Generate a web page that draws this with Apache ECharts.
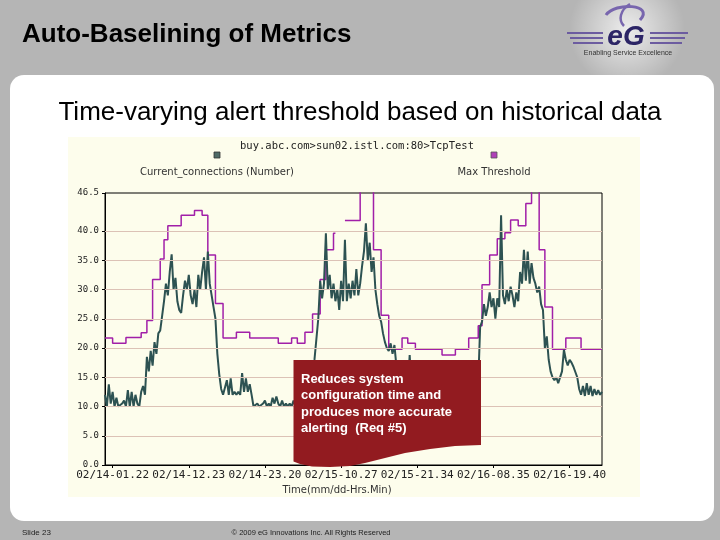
<!DOCTYPE html>
<html>
<head>
<meta charset="utf-8">
<script src="https://cdn.jsdelivr.net/npm/echarts@6/dist/echarts.min.js"></script>
<style>html,body{margin:0;padding:0;background:#b5b5b5}#c{width:720px;height:540px}</style>
</head>
<body>
<div id="c"></div>
<script>
// ---- data ----
const tickLabels = ['02/14-01.22','02/14-12.23','02/14-23.20','02/15-10.27','02/15-21.34','02/16-08.35','02/16-19.40'];
const firstTick = 4, tickStep = 40;
const yTickValues = [0,5,10,15,20,25,30,35,40,46.5];
const yTickLabels = ['0.0','5.0','10.0','15.0','20.0','25.0','30.0','35.0','40.0','46.5'];
const gridValues = [5,10,15,20,25,30,35,40];
const current = [
12,10,13.8,10.5,12.5,10,11.5,10,10,10.5,
11,10,12.8,10,12.5,10,12,10.5,10,12.5,
13.5,12,18.5,16,19.5,17,21,19,22.5,23,
25.5,28,31,29,33,36,30,32,28,26.5,
26,29,31.5,30,32.5,29,27.5,30,27,32.5,
30,33,35.5,30,36.5,31,29,27,25,19,
15.5,13,12,12,14.5,12,14.8,12,12.5,12,
12.5,12,15.7,12.5,14.8,12.5,13.8,12,10,10,
10.5,10,10,10.5,11,10,10.5,10,11.5,10.5,
11.7,10.5,10,11,10,10.5,10,10.5,10,11,
10,10.5,10,11,10,10.5,11,12,14,16,
18,21.5,25,31.5,28.5,31,39.6,30,32.5,28.5,
31,28,30,26.5,31.5,28,38.5,28,31,28.5,
31.5,29,33.5,29,31,34,36.5,41.3,35,38,
33,35.5,30,27.5,25.5,24.5,22.5,21,20,19.5,
20.8,19,20.5,17,15,13,12.5,14,12,13,
18.8,13,12,11,10.5,10,10.5,10,11,10,
10,10.5,10,11,10,10.5,10,10,11,10.5,
10,10,10.5,11,10,10,10.5,10,11,10,
10.5,11,12,13,14,14,14,23.6,24.5,27.5,
25.5,27,29.5,27,28.5,25,28.5,27,42.7,29,
27.5,30,28,30.5,29,27,29.5,28,33,31,
36.8,31.5,36.5,31,34.5,32,31,29.5,30.5,27.5,
26.5,20,22,18,16,15,14.5,15,14,14,
16,19.7,18,17,18,17.5,16.8,17,15,13,
12,13.5,11.8,14,12,13.5,11.8,13,12,12.8,
12,12.5
];
// threshold: change points (sample index) and values (step function)
const thrIdx = [0,4,11,19,22,25,29,31,33,40,47,51,54,58,62,69,76,91,98,101,105,109,113,116,120,121,126,134,141,145,149,156,159,163,177,184,191,196,198,202,206,210,213,217,221,224,228,231,235,242,250,261];
const thrVal = [21.7,20.8,21.8,22.6,24.7,31.7,35.2,38.5,40.9,42.7,43.5,42.7,35.9,27.6,21.7,22.7,21.7,20.8,21.7,20.8,22.7,25.8,31.7,36.8,39.6,null,41.8,48,36.8,25.6,19.8,21.7,20.8,19.8,18.8,19.8,21.7,23.8,30.8,35.9,38.7,39.7,41.9,40.9,44.7,48,36.8,27.0,19.8,21.7,19.8,19.8];

const cats = current.map((_, i) => i);
const thrData = thrIdx.map((x, k) => [x, thrVal[k]]);
const isTick = (i) => i >= firstTick && (i - firstTick) % tickStep === 0;

const chart = echarts.init(document.getElementById('c'));
const mono = '"DejaVu Sans Mono", monospace';
const purple = '#6c5ca0';
chart.setOption({
  backgroundColor: '#b5b5b5',
  animation: false,
  grid: { left: 105, right: 118, top: 193, bottom: 75, show: true, borderColor: '#000', borderWidth: 1, backgroundColor: 'transparent', z: 1 },
  xAxis: {
    type: 'category', data: cats, boundaryGap: false,
    axisLine: { lineStyle: { color: '#000', width: 1 } },
    axisTick: { interval: (i) => isTick(i), length: 3, lineStyle: { color: '#000' } },
    axisLabel: { interval: (i) => isTick(i), formatter: (v, i) => tickLabels[(i - firstTick) / tickStep] || '', color: '#222', fontFamily: mono, fontSize: 11, margin: 5 },
    splitLine: { show: false }
  },
  yAxis: {
    type: 'value', min: 0, max: 46.5, interval: 5,
    axisLine: { show: true, lineStyle: { color: '#000' } },
    axisTick: { show: true, length: 3, customValues: yTickValues, lineStyle: { color: '#000' } },
    axisLabel: { customValues: yTickValues, formatter: (v) => { const k = yTickValues.indexOf(v); return k >= 0 ? yTickLabels[k] : ''; }, color: '#222', fontFamily: mono, fontSize: 9, margin: 6 },
    splitLine: { show: false }
  },
  series: [
    { type: 'line', data: [], silent: true, z: 1,
      markLine: { silent: true, symbol: 'none', label: { show: false }, animation: false,
        lineStyle: { color: '#dcc2b6', type: 'solid', width: 1 },
        data: gridValues.map(v => ({ yAxis: v })) } },
    { name: 'Max Threshold', type: 'line', step: 'end', data: thrData, showSymbol: false, connectNulls: false,
      lineStyle: { color: '#a11fa8', width: 1.5 }, itemStyle: { color: '#a11fa8' }, z: 3 },
    { name: 'Current_connections (Number)', type: 'line', data: current, showSymbol: false,
      lineStyle: { color: '#2d5252', width: 2 }, itemStyle: { color: '#2d5252' }, z: 4 }
  ],
  graphic: [
    { type: 'rect', z: -20, shape: { x: 10, y: 75, width: 704, height: 446, r: 14 }, style: { fill: '#ffffff' } },
    { type: 'rect', z: -19, shape: { x: 0, y: 521, width: 720, height: 19 }, style: { fill: '#b5b5b5' } },
    { type: 'rect', z: -18, shape: { x: 68, y: 137, width: 572, height: 360 }, style: { fill: '#fdfdec' } },
    { type: 'circle', z: -19, shape: { cx: 627, cy: 30, r: 58 }, style: { fill: { type: 'radial', x: 0.5, y: 0.5, r: 0.5, colorStops: [{ offset: 0, color: 'rgba(255,255,255,0.75)' }, { offset: 1, color: 'rgba(255,255,255,0)' }] } } },
    { type: 'text', z: 10, style: { text: 'Auto-Baselining of Metrics', x: 22, y: 35, textVerticalAlign: 'middle', fill: '#000', font: 'bold 26px "Liberation Sans", Arial, sans-serif' } },
    { type: 'text', z: 10, style: { text: 'Time-varying alert threshold based on historical data', x: 360, y: 113, textAlign: 'center', textVerticalAlign: 'middle', fill: '#000', font: '26px "Liberation Sans", Arial, sans-serif' } },
    { type: 'text', z: 10, style: { text: 'buy.abc.com>sun02.istl.com:80>TcpTest', x: 357, y: 146, textAlign: 'center', textVerticalAlign: 'middle', fill: '#222', font: '10.5px ' + mono } },
    { type: 'rect', z: 10, shape: { x: 214, y: 152, width: 6, height: 6 }, style: { fill: '#4f6a66', stroke: '#333', lineWidth: 0.8 } },
    { type: 'rect', z: 10, shape: { x: 491, y: 152, width: 6, height: 6 }, style: { fill: '#b040b8', stroke: '#555', lineWidth: 0.8 } },
    { type: 'text', z: 10, style: { text: 'Current_connections (Number)', x: 217, y: 172, textAlign: 'center', textVerticalAlign: 'middle', fill: '#333', font: '10px "DejaVu Sans", sans-serif' } },
    { type: 'text', z: 10, style: { text: 'Max Threshold', x: 494, y: 172, textAlign: 'center', textVerticalAlign: 'middle', fill: '#333', font: '10px "DejaVu Sans", sans-serif' } },
    { type: 'text', z: 10, style: { text: 'Time(mm/dd-Hrs.Min)', x: 337, y: 490, textAlign: 'center', textVerticalAlign: 'middle', fill: '#333', font: '10px "DejaVu Sans", sans-serif' } },
    { type: 'polygon', z: 100, shape: { points: [[293.5,360],[481,360],[481,445],[455,446],[430,449],[405,453],[385,458],[365,463],[350,466],[330,467],[312,466.5],[300,464],[293.5,461.5]] }, style: { fill: '#921b20' } },
    { type: 'text', z: 101, style: { text: 'Reduces system\nconfiguration time and\nproduces more accurate\nalerting  (Req #5)', x: 301, y: 371, textVerticalAlign: 'top', fill: '#ffffff', font: 'bold 13px "Liberation Sans", Arial, sans-serif', lineHeight: 16.5 } },
    { type: 'text', z: 10, style: { text: 'Slide 23', x: 22, y: 533, textVerticalAlign: 'middle', fill: '#222', font: '8px "Liberation Sans", Arial, sans-serif' } },
    { type: 'text', z: 10, style: { text: '\u00a9 2009 eG Innovations Inc. All Rights Reserved', x: 311, y: 533, textAlign: 'center', textVerticalAlign: 'middle', fill: '#222', font: '7.5px "Liberation Sans", Arial, sans-serif' } },
    { type: 'bezierCurve', z: 10, shape: { x1: 606, y1: 15, cpx1: 615, cpy1: 2, cpx2: 655, cpy2: 4, x2: 640, y2: 20 }, style: { fill: 'none', stroke: '#7866ae', lineWidth: 3 } },
    { type: 'bezierCurve', z: 10, shape: { x1: 630, y1: 4, cpx1: 620, cpy1: 10, cpx2: 618, cpy2: 20, x2: 624, y2: 26 }, style: { fill: 'none', stroke: '#7866ae', lineWidth: 2.5 } },
    { type: 'rect', z: 10, shape: { x: 567, y: 32, width: 36, height: 2 }, style: { fill: purple } },
    { type: 'rect', z: 10, shape: { x: 570, y: 37, width: 33, height: 2 }, style: { fill: purple } },
    { type: 'rect', z: 10, shape: { x: 573, y: 42, width: 30, height: 2 }, style: { fill: purple } },
    { type: 'rect', z: 10, shape: { x: 650, y: 32, width: 38, height: 2 }, style: { fill: purple } },
    { type: 'rect', z: 10, shape: { x: 650, y: 37, width: 35, height: 2 }, style: { fill: purple } },
    { type: 'rect', z: 10, shape: { x: 650, y: 42, width: 32, height: 2 }, style: { fill: purple } },
    { type: 'text', z: 11, style: { text: 'eG', x: 626, y: 37, textAlign: 'center', textVerticalAlign: 'middle', fill: '#2c2566', font: 'italic bold 28px "Liberation Sans", Arial, sans-serif' } },
    { type: 'text', z: 11, style: { text: 'Enabling Service Excellence', x: 628, y: 53, textAlign: 'center', textVerticalAlign: 'middle', fill: '#333', font: '7px "Liberation Sans", Arial, sans-serif' } }
  ]
});
</script>
</body>
</html>
